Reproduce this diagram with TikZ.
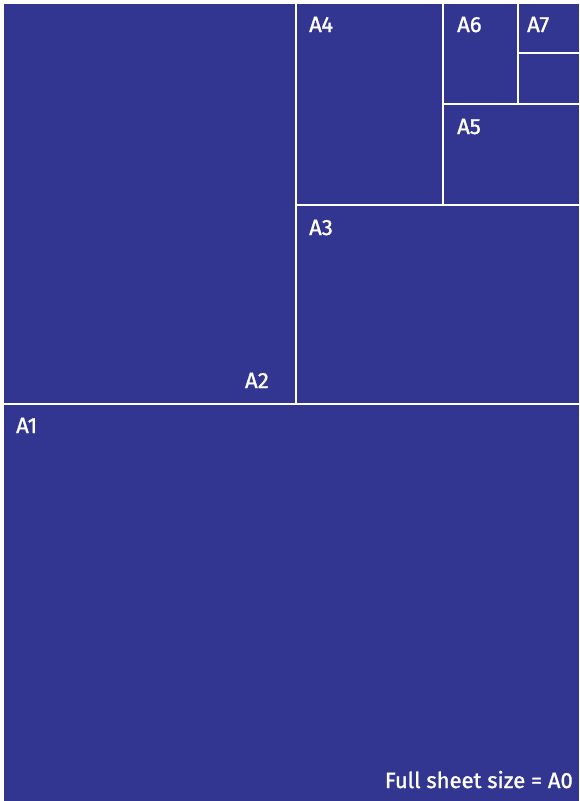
\documentclass[tikz,border=0pt]{standalone}
\usepackage{fontspec}
\setmainfont{Fira Sans}
\newfontfamily\sheetfont[FakeBold=1.3]{Fira Sans}
\definecolor{sheetblue}{RGB}{51,54,145}
\tikzset{
  sheetlabel/.style={text=white, font=\sheetfont\fontsize{22}{25}\selectfont, inner sep=0pt, anchor=base west},
  cutline/.style={white, line width=2.6pt}
}
\begin{document}
\begin{tikzpicture}[x=1pt,y=-1pt]
\useasboundingbox (0,0) rectangle (579,801);
\fill[fill=sheetblue](4,4)rectangle(579,801);
% cuts
\draw[cutline] (4,404)--(579,404);
\draw[cutline] (296,4)--(296,404);
\draw[cutline] (296,205)--(579,205);
\draw[cutline] (443,4)--(443,205);
\draw[cutline] (443,104)--(579,104);
\draw[cutline] (518,4)--(518,104);
\draw[cutline] (518,53)--(579,53);
% sizes
\node[sheetlabel] (a1) at (16,433) {A1};
\node[sheetlabel, anchor=base east] (a2) at (269,388) {A2};
\node[sheetlabel] (a3) at (309,235) {A3};
\node[sheetlabel] (a4) at (309,32) {A4};
\node[sheetlabel] (a5) at (457,134) {A5};
\node[sheetlabel] (a6) at (457,32) {A6};
\node[sheetlabel] (a7) at (527,32) {A7};
\node[sheetlabel, anchor=base east] (a0) at (573,788) {Full sheet size = A0};
\end{tikzpicture}
\end{document}
